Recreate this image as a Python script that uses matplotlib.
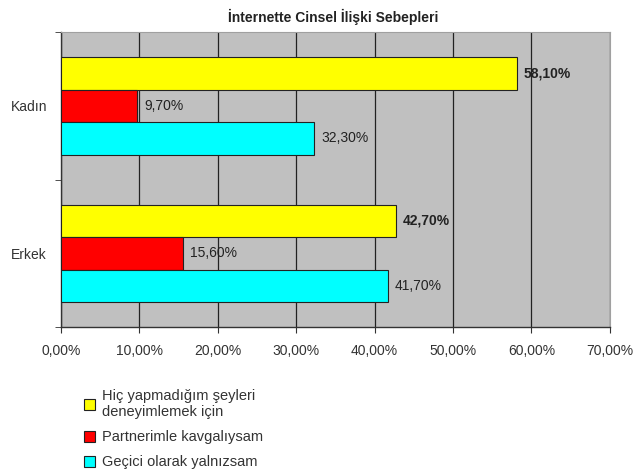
import numpy as np
import matplotlib.pyplot as plt
from matplotlib.patches import Patch

# Data
groups = ["Kadın", "Erkek"]
series_names = ["Hiç yapmadığım şeyleri\ndeneyimlemek için",
                "Partnerimle kavgalıysam",
                "Geçici olarak yalnızsam"]
series_colors = ["#ffff00", "#ff0000", "#00ffff"]
values = {
    "Hiç yapmadığım şeyleri\ndeneyimlemek için": [58.1, 42.7],
    "Partnerimle kavgalıysam": [9.7, 15.6],
    "Geçici olarak yalnızsam": [32.3, 41.7],
}
xticks = [0, 10, 20, 30, 40, 50, 60, 70]

plt.rcParams["font.family"] = ["Liberation Sans", "DejaVu Sans"]

fig = plt.figure(figsize=(6.4, 4.72), dpi=100)
ax = fig.add_axes([0.095, 0.307, 0.858, 0.625])
ax.set_facecolor("#c0c0c0")

ypos = np.arange(len(groups))
h = 0.22
for i, name in enumerate(series_names):
    y = ypos + (i - 1) * h
    vals = values[name]
    ax.barh(y, vals, height=h, color=series_colors[i], edgecolor="#222222",
            linewidth=0.8, zorder=3)
    for yy, v in zip(y, vals):
        ax.text(v + 0.9, yy, f"{v:.2f}%".replace(".", ","), va="center",
                ha="left", fontsize=10, color="#222222",
                fontweight="bold" if i == 0 else "normal", zorder=4)

ax.set_xlim(0, 70)
ax.set_ylim(1.5, -0.5)
ax.set_xticks(xticks)
ax.set_xticklabels([f"{t:.2f}%".replace(".", ",") for t in xticks],
                   fontsize=10, color="#333333")
ax.set_yticks(ypos)
ax.set_yticklabels(groups, fontsize=10, color="#333333")
ax.set_yticks([-0.5, 0.5, 1.5], minor=True)
ax.tick_params(axis="y", which="major", length=0, pad=10)
ax.tick_params(axis="y", which="minor", length=4, color="#333333")
ax.tick_params(axis="x", length=4, color="#333333", pad=8)
ax.grid(axis="x", color="#222222", linewidth=0.9, zorder=1)
for s in ["left", "bottom"]:
    ax.spines[s].set_color("#333333")
    ax.spines[s].set_linewidth(1.0)
for s in ["top", "right"]:
    ax.spines[s].set_color("#a0a0a0")

fig.text(0.52, 0.965, "İnternette Cinsel İlişki Sebepleri", ha="center",
         va="center", fontsize=10, fontweight="bold", color="#222222")

handles = [Patch(facecolor=c, edgecolor="#222222", linewidth=0.8)
           for c in series_colors]
fig.legend(handles, series_names, loc="lower left",
           bbox_to_anchor=(0.11, -0.022), frameon=False, fontsize=10.5,
           handlelength=0.8, handleheight=0.8, handletextpad=0.45,
           labelspacing=0.75, labelcolor="#333333")

fig.savefig("out.png", dpi=100)
